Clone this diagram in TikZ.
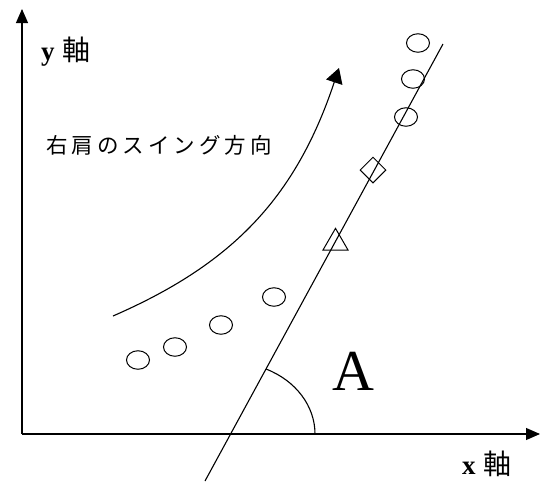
\documentclass[tikz,border=0pt]{standalone}
\usepackage{fontspec}
\setmainfont{Liberation Serif}
\newfontfamily\jp{Noto Sans CJK JP}
\usetikzlibrary{arrows.meta,shapes.geometric}
\newcommand{\jg}{\hspace{4pt}}
\begin{document}
\begin{tikzpicture}[x=1pt,y=-1pt,
  axis/.style={line width=1.1pt,-{Triangle[length=14pt,width=12pt]}},
  thin line/.style={line width=1.1pt},
  mark ellipse/.style={draw,line width=1pt,ellipse,inner sep=0pt,minimum width=23pt,minimum height=18.5pt},
  mark diamond/.style={draw,line width=1pt,diamond,aspect=1,inner sep=0pt,minimum width=26pt,minimum height=26pt},
  mark tri/.style={draw,line width=1pt,regular polygon,regular polygon sides=3,inner sep=0pt,minimum size=28.9pt},
  axlabel/.style={font=\fontsize{27}{30}\selectfont,inner sep=0pt},
  jplabel/.style={font=\jp\fontsize{21.5}{24}\selectfont,inner sep=0pt}]
\useasboundingbox (0,0) rectangle (542,482);
% axes
\coordinate (O) at (22,434);
\coordinate (Ytip) at (22,9);
\coordinate (Xtip) at (540,434);
\draw[axis] (O) -- (Ytip);
\draw[axis] (O) -- (Xtip);
\node[axlabel,anchor=west] (ylab) at (41,52) {\textbf{y}\hspace{8pt}{\jp\fontsize{28}{30}\selectfont 軸}};
\node[axlabel,anchor=west] (xlab) at (462,464) {\textbf{x}\hspace{8pt}{\jp\fontsize{28}{30}\selectfont 軸}};
% regression line
\coordinate (L1) at (205,481);
\coordinate (L2) at (443,44);
\draw[thin line] (L1) -- (L2);
\coordinate (C) at (231,434);
\draw[thin line] (315,434) arc[start angle=0,end angle=-65.4,x radius=84,y radius=71.5];
\node[font=\fontsize{58}{60}\selectfont,anchor=base,inner sep=0pt] (A) at (353,390) {A};
% swing curve
\coordinate (S0) at (113,316);
\coordinate (S1) at (339,68);
\draw[thin line,-{Triangle[length=15pt,width=17pt]}] (S0) .. controls (230,265) and (295,200) .. (S1);
\node[jplabel,anchor=west] (lab) at (46,145) {右\jg 肩\jg の\jg ス\jg イ\jg ン\jg グ\jg 方\jg 向};
% markers on line
\node[mark ellipse] (e1) at (418,43) {};
\node[mark ellipse] (e2) at (413,79) {};
\node[mark ellipse] (e3) at (406,117) {};
\node[mark diamond] (d1) at (373,170) {};
\node[mark tri] (t1) at (335.5,242.8) {};
% lower markers
\node[mark ellipse] (f1) at (138,360) {};
\node[mark ellipse] (f2) at (175,347) {};
\node[mark ellipse] (f3) at (221,325) {};
\node[mark ellipse] (f4) at (274,297) {};
\end{tikzpicture}
\end{document}
